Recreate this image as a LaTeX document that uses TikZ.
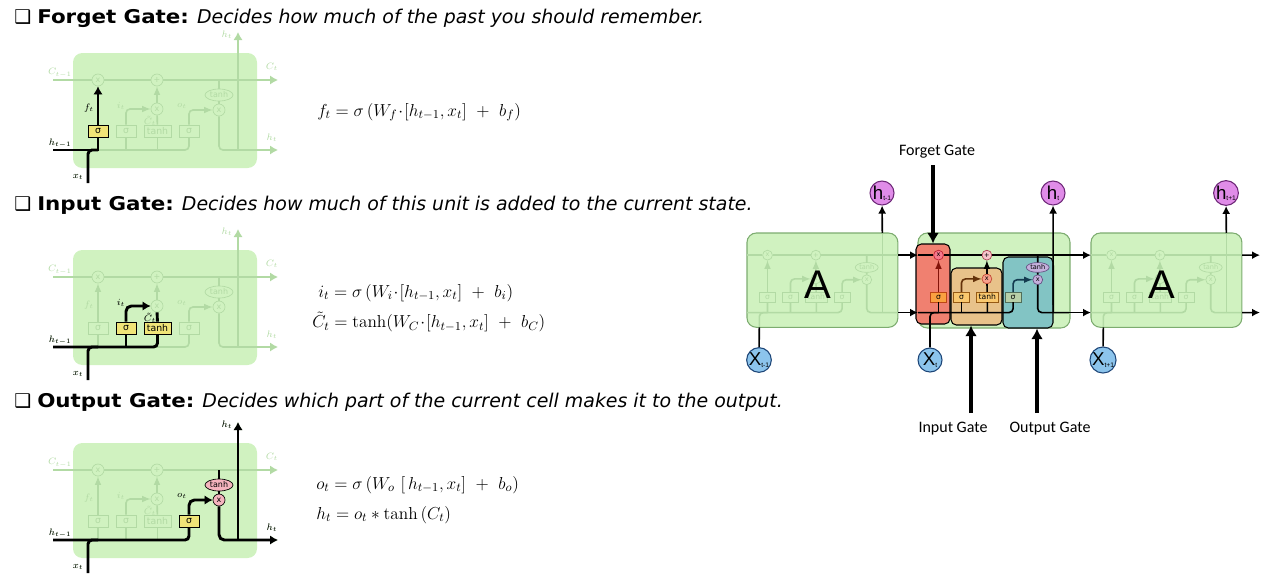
\RequirePackage{fix-cm}
\documentclass[tikz,border=0pt]{standalone}
\usepackage{fontspec}
\newfontfamily\verdana{DejaVu Sans}[ItalicFont={DejaVu Sans Oblique},BoldFont={DejaVu Sans Bold},BoldItalicFont={DejaVu Sans Bold Oblique},BoldFeatures={FakeStretch=1.13}]
\newfontfamily\calibri{Carlito}
\newfontfamily\arial{Liberation Sans}
\usetikzlibrary{
	positioning
	, arrows
	, arrows.meta
	, fit
	, shapes.geometric
}
\definecolor{cellbg}{RGB}{208,242,192}
\definecolor{cellbd}{RGB}{125,172,112}
\definecolor{fade}{RGB}{178,218,164}
\definecolor{sigyel}{RGB}{240,228,120}
\definecolor{pinkop}{RGB}{245,180,190}
\definecolor{fgred}{RGB}{240,128,112}
\definecolor{fgsig}{RGB}{250,160,64}
\definecolor{fgsigbd}{RGB}{190,70,20}
\definecolor{fgx}{RGB}{245,120,140}
\definecolor{fgxbd}{RGB}{190,30,50}
\definecolor{fgdark}{RGB}{130,20,10}
\definecolor{igtan}{RGB}{232,194,138}
\definecolor{igsig}{RGB}{250,200,110}
\definecolor{igsigbd}{RGB}{150,90,20}
\definecolor{igx}{RGB}{248,160,140}
\definecolor{igxbd}{RGB}{190,70,50}
\definecolor{igdark}{RGB}{100,50,10}
\definecolor{ogteal}{RGB}{130,196,196}
\definecolor{ogsig}{RGB}{184,208,168}
\definecolor{ogsigbd}{RGB}{80,110,90}
\definecolor{ogth}{RGB}{196,176,220}
\definecolor{ogthbd}{RGB}{100,80,130}
\definecolor{ogdark}{RGB}{20,60,80}
\definecolor{plusc}{RGB}{248,196,204}
\definecolor{plusbd}{RGB}{170,60,80}
\definecolor{hcircc}{RGB}{224,140,232}
\definecolor{hcircbd}{RGB}{110,40,120}
\definecolor{xcircc}{RGB}{140,196,236}
\definecolor{xcircbd}{RGB}{30,70,120}

\begin{document}
\begin{tikzpicture}[x=0.75pt, y=-0.75pt, >=latex,
			cell/.style={
				fill=cellbg,
				rounded corners=7pt
			},
			fadeline/.style={
				draw=fade,
				line width=1.2pt
			},
			fadearrow/.style={
				fadeline,
				-{Latex[length=6pt, width=7pt]}
			},
			hl/.style={
				draw=black,
				line width=2.2pt
			},
			hlarrow/.style={
				hl,
				-{Latex[length=6pt, width=7pt]}
			},
			mainline/.style={
				draw=black,
				line width=1.2pt
			},
			op/.style={
				circle,
				draw, line width=0.5pt,
				minimum size=9pt,
				inner sep=0pt,
				font=\verdana\fontsize{6}{6}\selectfont
			},
			gate/.style={
				rectangle,
				draw, line width=0.5pt,
				minimum width=15pt, minimum height=9pt,
				inner sep=0pt,
				font=\verdana\fontsize{7}{7}\selectfont
			},
			widegate/.style={
				gate,
				minimum width=20pt
			},
			tanhop/.style={
				ellipse,
				draw, line width=0.5pt,
				minimum width=21pt, minimum height=9pt,
				inner sep=0pt,
				font=\verdana\fontsize{6}{6}\selectfont
			},
			faded/.style={
				draw=fade,
				fill=cellbg,
				text=fade
			},
			lbl/.style={
				inner sep=0pt,
				font=\fontsize{7}{8}\selectfont
			},
			heading/.style={
				anchor=west,
				inner sep=0pt,
				font=\verdana\fontsize{14.2}{16}\selectfont
			},
			eqn/.style={
				anchor=west,
				inner sep=0pt,
				font=\fontsize{13}{15}\selectfont
			},
			gatelabel/.style={
				inner sep=0pt,
				font=\calibri\fontsize{12}{14}\selectfont
			},
			region/.style={
				draw=black, line width=0.8pt,
				rounded corners=4pt,
				inner sep=0pt
			},
			hcirc/.style={
				circle,
				draw=hcircbd, fill=hcircc, line width=0.8pt,
				minimum size=18pt,
				inner sep=0pt,
				font=\arial\fontsize{14}{14}\selectfont
			},
			xcirc/.style={
				hcirc,
				draw=xcircbd, fill=xcircc
			},
			bigarrow/.style={
				-{Latex[length=6pt, width=6pt]},
				line width=1.2pt
			},
			gatearrow/.style={
				-{Latex[length=8pt, width=9pt]},
				line width=3pt
			}]

			\useasboundingbox (0,0) rectangle (1262,576);

			%%% Headings and equations
			\node [heading] (headF) at (14,18) {❑\ \textbf{Forget Gate:} \textit{Decides how much of the past you should remember.}};
			\node [heading] (headI) at (14,205) {❑\ \textbf{Input Gate:} \textit{Decides how much of this unit is added to the current state.}};
			\node [heading] (headO) at (14,402) {❑\ \textbf{Output Gate:} \textit{Decides which part of the current cell makes it to the output.}};

			\node [eqn] (eqF) at (317,112) {$f_t = \sigma\,(W_f\!\cdot\![h_{t-1},x_t]\ +\ b_f)$};
			\node [eqn] (eqI) at (318,293) {$i_t = \sigma\,(W_i\!\cdot\![h_{t-1},x_t]\ +\ b_i)$};
			\node [eqn] (eqC) at (312,322) {$\tilde{C}_t = \tanh(W_C\!\cdot\![h_{t-1},x_t]\ +\ b_C)$};
			\node [eqn] (eqO) at (316,485) {$o_t = \sigma\,(W_o\ [\,h_{t-1},x_t]\ +\ b_o)$};
			\node [eqn] (eqH) at (316,515) {$h_t = o_t * \tanh\,(C_t)$};

			%%% Faded cells: three small ones on the left, two A cells on the right
			\foreach \n/\ox/\oy/\s/\bd in {m1/73/53/1/none, m2/73/250/1/none, m3/73/443/1/none, a1/747/233/0.82/cellbd, a3/1091/233/0.82/cellbd} {
				\begin{scope}[shift={(\ox,\oy)}, scale=\s, transform shape]
					\draw [cell, draw=\bd, line width=0.8pt] (0,0) rectangle (184,115);
					\coordinate (\n-cl) at (0,27);
					\coordinate (\n-cr) at (184,27);
					\coordinate (\n-hl) at (0,97);
					\coordinate (\n-hr) at (184,97);
					\coordinate (\n-oc) at (146,27);
					\coordinate (\n-bf) at (25,97);
					\coordinate (\n-bi) at (53,97);
					\coordinate (\n-bt) at (84.5,97);
					\coordinate (\n-hb) at (165,97);
					\coordinate (\n-top) at (165,0);
					\coordinate (\n-xb) at (15,115);
					\node [op, faded] (\n-fx) at (25,27) {x};
					\node [op, faded] (\n-px) at (84,27) {+};
					\node [op, faded] (\n-ix) at (84,56) {x};
					\node [op, faded] (\n-ox) at (146,57) {x};
					\node [tanhop, faded] (\n-th) at (146,42) {tanh};
					\node [gate, faded] (\n-sf) at (25,78) {σ};
					\node [gate, faded] (\n-si) at (53,78) {σ};
					\node [widegate, faded] (\n-st) at (84.5,78) {tanh};
					\node [gate, faded] (\n-so) at (116,78) {σ};
					\draw [fadeline] (\n-cl) -- (\n-fx) -- (\n-px) -- (\n-cr);
					\draw [fadeline] (\n-oc) -- (\n-th) -- (\n-ox);
					\draw [fadeline, rounded corners=3pt] (\n-hl) -| (\n-so);
					\draw [fadeline, rounded corners=3pt] (\n-xb) |- (\n-bf);
					\draw [fadeline] (\n-bf) -- (\n-sf);
					\draw [fadeline] (\n-bi) -- (\n-si);
					\draw [fadeline] (\n-bt) -- (\n-st);
					\draw [fadeline] (\n-st) -- (\n-ix);
					\draw [fadeline, ->] (\n-sf) -- (\n-fx);
					\draw [fadeline, ->] (\n-ix) -- (\n-px);
					\draw [fadeline, ->, rounded corners=3pt] (\n-si) |- (\n-ix);
					\draw [fadeline, ->, rounded corners=3pt] (\n-so) |- (\n-ox);
					\draw [fadeline, rounded corners=3pt] (\n-ox) |- (\n-hr);
					\draw [fadeline] (\n-hb) -- (\n-top);
				\end{scope}
			};

			%%% Inputs, outputs and labels of the small cells
			\foreach \n/\oy in {m1/53, m2/250, m3/443} {
				\begin{scope}[shift={(73,\oy)}]
					\coordinate (\n-cle) at (-20,27);
					\coordinate (\n-cre) at (205,27);
					\coordinate (\n-hle) at (-20,97);
					\coordinate (\n-hre) at (205,97);
					\coordinate (\n-xe) at (15,130);
					\coordinate (\n-tope) at (165,-21);
					\draw [fadeline] (\n-cle) -- (\n-cl);
					\draw [fadearrow] (\n-cr) -- (\n-cre);
					\draw [fadeline] (\n-hle) -- (\n-hl);
					\draw [fadearrow] (\n-hr) -- (\n-hre);
					\draw [fadeline] (\n-xe) -- (\n-xb);
					\draw [fadearrow] (\n-top) -- (\n-tope);
					\node [lbl, text=fade] (\n-lcp) at (-13,20) {$C_{t-1}$};
					\node [lbl, text=fade] (\n-lc) at (199,14) {$C_t$};
					\node [lbl, text=fade] (\n-lht) at (154,-18) {$h_t$};
					\node [lbl, text=fade] (\n-lhp) at (-13,90) {$h_{t-1}$};
					\node [lbl, text=fade] (\n-lhr) at (199,85) {$h_t$};
					\node [lbl, text=fade] (\n-lx) at (5,124) {$x_t$};
					\node [lbl, text=fade] (\n-lf) at (16,55) {$f_t$};
					\node [lbl, text=fade] (\n-li) at (48,53) {$i_t$};
					\node [lbl, text=fade] (\n-lct) at (77,68) {$\tilde{C}_t$};
					\node [lbl, text=fade] (\n-lo) at (109,53) {$o_t$};
				\end{scope}
			};

			%%% Forget gate path
			\node [gate, fill=sigyel, draw=black] (m1-sfh) at (m1-sf) {σ};
			\node [lbl] (m1-lfh) at (m1-lf) {$f_t$};
			\node [lbl] (m1-lhph) at (m1-lhp) {$h_{t-1}$};
			\node [lbl] (m1-lxh) at (m1-lx) {$x_t$};
			\draw [hl] (m1-hle) -- (m1-bf) -- (m1-sfh);
			\draw [hl, rounded corners=3pt] (m1-xe) |- (m1-bf);
			\draw [hlarrow] (m1-sfh) -- (m1-fx);

			%%% Input gate path
			\node [gate, fill=sigyel, draw=black] (m2-sih) at (m2-si) {σ};
			\node [widegate, fill=sigyel, draw=black] (m2-sth) at (m2-st) {tanh};
			\node [lbl] (m2-lih) at (m2-li) {$i_t$};
			\node [lbl] (m2-lcth) at (m2-lct) {$\tilde{C}_t$};
			\node [lbl] (m2-lhph) at (m2-lhp) {$h_{t-1}$};
			\node [lbl] (m2-lxh) at (m2-lx) {$x_t$};
			\draw [hl, rounded corners=3pt] (m2-hle) -| (m2-sth);
			\draw [hl, rounded corners=3pt] (m2-xe) |- (m2-bf);
			\draw [hl] (m2-bi) -- (m2-sih);
			\draw [hlarrow, rounded corners=4pt] (m2-sih) |- (m2-ix);
			\draw [hl] (m2-sth) -- (m2-ix);

			%%% Output gate path
			\node [gate, fill=sigyel, draw=black] (m3-soh) at (m3-so) {σ};
			\node [tanhop, fill=pinkop, draw=black] (m3-thh) at (m3-th) {tanh};
			\node [op, fill=pinkop, draw=black] (m3-oxh) at (m3-ox) {x};
			\node [lbl] (m3-loh) at (m3-lo) {$o_t$};
			\node [lbl] (m3-lhth) at (m3-lht) {$h_t$};
			\node [lbl] (m3-lhrh) at (m3-lhr) {$h_t$};
			\node [lbl] (m3-lhph) at (m3-lhp) {$h_{t-1}$};
			\node [lbl] (m3-lxh) at (m3-lx) {$x_t$};
			\draw [hl, rounded corners=3pt] (m3-hle) -| (m3-soh);
			\draw [hl, rounded corners=3pt] (m3-xe) |- (m3-bf);
			\draw [hlarrow, rounded corners=4pt] (m3-soh) |- (m3-oxh);
			\draw [hl] (m3-oc) -- (m3-thh) -- (m3-oxh);
			\draw [hlarrow, rounded corners=4pt] (m3-oxh) |- (m3-hre);
			\draw [hlarrow] (m3-hb) -- (m3-tope);

			%%% Chain of cells on the right
			\node [font=\arial\fontsize{30}{30}\selectfont] (a1-name) at (818,285) {A};
			\node [font=\arial\fontsize{30}{30}\selectfont] (a3-name) at (1162,285) {A};

			\node [cell, draw=cellbd, line width=0.8pt, inner sep=0pt, fit={(918,233) (1070,328)}] (gcell) {};
			\node [region, fill=fgred, fit={(916,244) (950,324)}] (fgate) {};
			\node [region, fill=igtan, fit={(951,268) (1002,325)}] (igate) {};
			\node [region, fill=ogteal, fit={(1003,257) (1053,328)}] (ogate) {};

			\begin{scope}[shift={(918,233)}, scale=0.82, transform shape]
				\coordinate (g-cl) at (0,27);
				\coordinate (g-hl) at (0,97);
				\coordinate (g-hr) at (184,97);
				\coordinate (g-oc) at (146,27);
				\coordinate (g-bf) at (25,97);
				\coordinate (g-bi) at (53,97);
				\coordinate (g-bt) at (84.5,97);
				\coordinate (g-hb) at (165,97);
				\node [op, fill=fgx, draw=fgxbd] (g-fx) at (25,27) {x};
				\node [op, fill=plusc, draw=plusbd] (g-px) at (84,27) {+};
				\node [op, fill=igx, draw=igxbd] (g-ix) at (84,56) {x};
				\node [op, fill=ogth, draw=ogthbd] (g-ox) at (146,57) {x};
				\node [tanhop, fill=ogth, draw=ogthbd] (g-th) at (146,42) {tanh};
				\node [gate, fill=fgsig, draw=fgsigbd] (g-sf) at (25,78) {σ};
				\node [gate, fill=igsig, draw=igsigbd] (g-si) at (53,78) {σ};
				\node [widegate, fill=igsig, draw=igsigbd] (g-st) at (84.5,78) {tanh};
				\node [gate, fill=ogsig, draw=ogsigbd] (g-so) at (116,78) {σ};
			\end{scope}

			\node [hcirc] (h0) at (882,193) {h\raisebox{-1pt}{\fontsize{5}{5}\selectfont t-1}};
			\node [hcirc] (h1) at (1053,193) {h\raisebox{-1pt}{\fontsize{5}{5}\selectfont t}};
			\node [hcirc] (h2) at (1226,193) {h\raisebox{-1pt}{\fontsize{5}{5}\selectfont t+1}};
			\node [xcirc] (x0) at (759,360) {X\raisebox{-1pt}{\fontsize{5}{5}\selectfont t-1}};
			\node [xcirc] (x1) at (930,360) {X\raisebox{-1pt}{\fontsize{5}{5}\selectfont t}};
			\node [xcirc] (x2) at (1103,360) {X\raisebox{-1pt}{\fontsize{5}{5}\selectfont t+1}};
			\coordinate (cend) at (1260,255.14);
			\coordinate (hend) at (1260,312.54);

			% cell state and hidden state through the chain
			\draw [bigarrow] (a1-cr) -- (g-cl);
			\draw [mainline] (g-cl) -- (g-fx);
			\draw [mainline] (g-fx) -- (g-px);
			\draw [bigarrow] (g-px) -- (a3-cl);
			\draw [bigarrow] (a3-cr) -- (cend);
			\draw [bigarrow] (a1-hr) -- (g-hl);
			\draw [mainline, rounded corners=3pt] (g-hl) -| (g-so);
			\draw [mainline, rounded corners=3pt] (x1) |- (g-bf);
			\draw [mainline] (g-bf) -- (g-sf);
			\draw [mainline] (g-bi) -- (g-si);
			\draw [mainline] (g-bt) -- (g-st);
			\draw [mainline, draw=fgdark, ->] (g-sf) -- (g-fx);
			\draw [mainline, draw=igdark, ->, rounded corners=3pt] (g-si) |- (g-ix);
			\draw [mainline] (g-st) -- (g-ix);
			\draw [mainline, ->] (g-ix) -- (g-px);
			\draw [mainline] (g-oc) -- (g-th) -- (g-ox);
			\draw [mainline, draw=ogdark, ->, rounded corners=3pt] (g-so) |- (g-ox);
			\draw [mainline, rounded corners=3pt] (g-ox) |- (g-hr);
			\draw [bigarrow] (g-hr) -- (a3-hl);
			\draw [bigarrow] (a3-hr) -- (hend);
			\draw [bigarrow] (g-hb) -- (h1);
			\draw [bigarrow] (a1-top) -- (h0);
			\draw [bigarrow] (a3-top) -- (h2);
			\draw [mainline] (x0) -- (a1-xb);
			\draw [mainline] (x2) -- (a3-xb);

			%%% Gate labels
			\node [gatelabel] (fgname) at (937,152) {Forget Gate};
			\node [gatelabel] (igname) at (953,429) {Input Gate};
			\node [gatelabel] (ogname) at (1050,429) {Output Gate};
			\coordinate (fgs) at (933,165);
			\coordinate (igs) at (971,413);
			\coordinate (ogs) at (1037,413);
			\draw [gatearrow] (fgs) -- (fgate);
			\draw [gatearrow] (igs) -- (igs |- igate.south);
			\draw [gatearrow] (ogs) -- (ogs |- ogate.south);

		\end{tikzpicture}
\end{document}
